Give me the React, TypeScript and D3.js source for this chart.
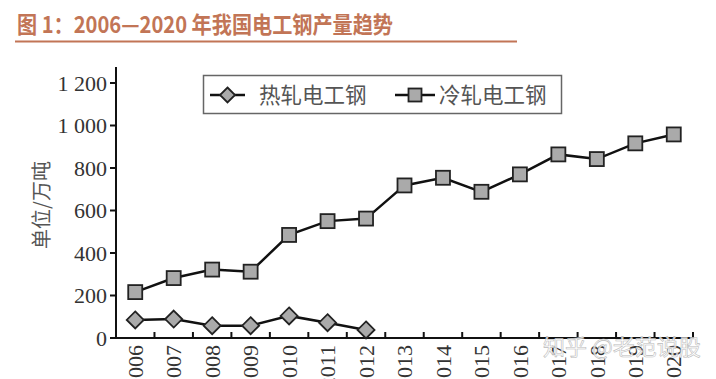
import React from "react";
import * as d3 from "d3";

const years = ["2006","2007","2008","2009","2010","2011","2012","2013","2014","2015","2016","2017","2018","2019","2020"];
const hotRolled = [85, 89, 58, 58, 104, 72, 38];
const coldRolled = [216, 282, 322, 312, 485, 550, 562, 718, 754, 688, 770, 864, 842, 916, 958];
const yTicks = [0, 200, 400, 600, 800, 1000, 1200];
const seriesNames = ["热轧电工钢", "冷轧电工钢"];

const W = 716, H = 379;
const x0 = 116, x1 = 693, y0 = 338, y1 = 83;

function fmt(v: number) {
  if (v >= 1000) {
    const s = String(v);
    return s.slice(0, s.length - 3) + " " + s.slice(-3);
  }
  return String(v);
}

function Diamond({ cx, cy, r = 8.5 }: { cx: number; cy: number; r?: number }) {
  return (
    <path
      d={`M${cx},${cy - r}L${cx + r},${cy}L${cx},${cy + r}L${cx - r},${cy}Z`}
      fill="#aaaaaa"
      stroke="#222"
      strokeWidth={1.8}
    />
  );
}
function Square({ cx, cy, s = 14 }: { cx: number; cy: number; s?: number }) {
  return (
    <rect x={cx - s / 2} y={cy - s / 2} width={s} height={s} fill="#aaaaaa" stroke="#222" strokeWidth={1.8} />
  );
}

export default function App() {
  const x = d3.scaleBand<string>().domain(years).range([x0, x1]);
  const y = d3.scaleLinear().domain([0, 1200]).range([y0, y1]);
  const cx = (yr: string) => (x(yr) as number) + x.bandwidth() / 2;
  const line = d3
    .line<number>()
    .x((_, i) => cx(years[i]))
    .y((d) => y(d));

  return (
    <svg width={W} height={H} style={{ position: "absolute", left: 0, top: 0, background: "#fff" }}>
      <rect width={W} height={H} fill="#fff" />
      {/* title */}
      <text
        x={17}
        y={33}
        fontFamily="'Noto Sans CJK SC', 'Noto Sans', sans-serif"
        fontWeight="bold"
        fontSize={23}
        fill="#c27556"
        textLength={376}
        lengthAdjust="spacingAndGlyphs"
      >
        图 1：2006—2020 年我国电工钢产量趋势
      </text>
      <line x1={15} x2={517} y1={41.5} y2={41.5} stroke="#c27556" strokeWidth={2} />

      {/* y axis */}
      <line x1={x0} x2={x0} y1={67} y2={y0 + 1} stroke="#111" strokeWidth={2} />
      {yTicks.map((t) => (
        <g key={t}>
          <line x1={x0 - 6} x2={x0} y1={y(t)} y2={y(t)} stroke="#111" strokeWidth={2} />
          <text
            x={x0 - 9}
            y={y(t)}
            dy="0.35em"
            textAnchor="end"
            fontFamily="'Liberation Serif', 'DejaVu Serif', serif"
            fontSize={22}
            fill="#333"
          >
            {fmt(t)}
          </text>
        </g>
      ))}
      <text
        transform={`translate(42,205) rotate(-90)`}
        textAnchor="middle"
        dy="0.35em"
        fontFamily="'Noto Sans CJK SC', sans-serif"
        fontSize={20}
        fill="#555"
      >
        单位/万吨
      </text>

      {/* x axis */}
      <line x1={x0 - 1} x2={x1 + 1} y1={y0} y2={y0} stroke="#111" strokeWidth={2} />
      {years.map((yr) => (
        <g key={yr}>
          <line
            x1={(x(yr) as number) + x.bandwidth()}
            x2={(x(yr) as number) + x.bandwidth()}
            y1={y0}
            y2={y0 - 6}
            stroke="#111"
            strokeWidth={2}
          />
          <text
            transform={`translate(${cx(yr)},${y0 + 7}) rotate(-90)`}
            textAnchor="end"
            dy="0.35em"
            fontFamily="'Liberation Serif', 'DejaVu Serif', serif"
            fontSize={22}
            fill="#333"
          >
            {yr}
          </text>
        </g>
      ))}

      {/* lines */}
      <path d={line(coldRolled) || ""} fill="none" stroke="#111" strokeWidth={2.5} />
      <path d={line(hotRolled) || ""} fill="none" stroke="#111" strokeWidth={2.5} />
      {coldRolled.map((v, i) => (
        <Square key={"c" + i} cx={cx(years[i])} cy={y(v)} />
      ))}
      {hotRolled.map((v, i) => (
        <Diamond key={"h" + i} cx={cx(years[i])} cy={y(v)} />
      ))}

      {/* legend */}
      <rect x={203.5} y={75.5} width={358} height={38} fill="#fff" stroke="#666" strokeWidth={1.5} />
      <line x1={210} x2={245} y1={95} y2={95} stroke="#111" strokeWidth={2.5} />
      <Diamond cx={227.5} cy={95} r={7.5} />
      <text x={259} y={95} dy="0.35em" fontFamily="'Noto Sans CJK SC', sans-serif" fontSize={21.5} fill="#555">
        {seriesNames[0]}
      </text>
      <line x1={395} x2={435} y1={95} y2={95} stroke="#111" strokeWidth={2.5} />
      <Square cx={415} cy={95} s={13} />
      <text x={439} y={95} dy="0.35em" fontFamily="'Noto Sans CJK SC', sans-serif" fontSize={21.5} fill="#555">
        {seriesNames[1]}
      </text>

      {/* watermark */}
      <text
        x={543}
        y={347}
        dy="0.35em"
        fontFamily="'Noto Sans CJK SC', sans-serif"
        fontSize={22}
        fill="#fff"
        fillOpacity={0.85}
        stroke="#bbb"
        strokeWidth={0.6}
      >
        知乎 @老范说股
      </text>
    </svg>
  );
}
